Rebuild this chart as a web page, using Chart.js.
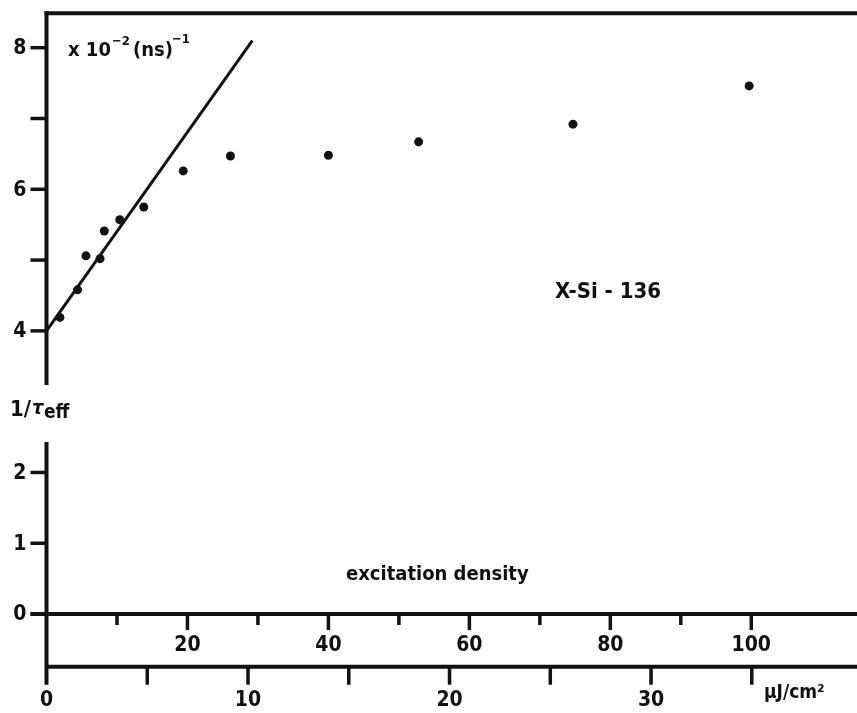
<!DOCTYPE html>
<html>
<head>
<meta charset="utf-8">
<title>Decay rate vs excitation density</title>
<script src="https://cdn.jsdelivr.net/npm/chart.js@4/dist/chart.umd.min.js"></script>
<style>
  body { margin: 0; background: #fff; }
  canvas { display: block; }
</style>
</head>
<body>
<canvas id="rateChart" width="857" height="713"></canvas>
<script>
// measured points: excitation density (upper scale units) and 1/tau_eff in 10^-2 ns^-1
const density = [1.9, 4.4, 5.6, 7.6, 8.2, 10.4, 13.8, 19.4, 26.1, 40.0, 52.8, 74.7, 99.7];
const rate = [4.19, 4.58, 5.06, 5.02, 5.41, 5.57, 5.75, 6.26, 6.47, 6.48, 6.67, 6.92, 7.46];

// straight line through the low-density points
const fitX = [0, 29.2];
const fitY = [4.0, 8.1];

// axis ticks
const yTicks = [8, 7, 6, 5, 4, 2, 1, 0];
const yLabels = ["8", "6", "4", "2", "1", "0"];
const upperMajor = [20, 40, 60, 80, 100];
const upperMinor = [10, 30, 50, 70, 90];
const lowerTicks = [5, 10, 15, 20, 25, 30, 35];
const lowerLabels = [0, 10, 20, 30];

const FONT = '"DejaVu Sans Condensed", "DejaVu Sans", sans-serif';
const INK = "#111";

function line(ctx, x1, y1, x2, y2, w) {
  ctx.lineWidth = w;
  ctx.beginPath();
  ctx.moveTo(x1, y1);
  ctx.lineTo(x2, y2);
  ctx.stroke();
}

// axes are drawn by hand: broken y axis plus two stacked x axes
const axesPlugin = {
  id: "axesPlugin",
  afterDraw(chart) {
    const ctx = chart.ctx;
    const { x, x2, y } = chart.scales;
    const area = chart.chartArea;
    const left = x.getPixelForValue(0);
    const y0 = y.getPixelForValue(0);
    ctx.save();
    ctx.strokeStyle = INK;
    ctx.fillStyle = INK;
    ctx.lineCap = "butt";

    // frame top and broken y axis
    line(ctx, left - 2, area.top, area.right, area.top, 4);
    line(ctx, left, area.top - 2, left, 385, 4);
    line(ctx, left, 442, left, area.bottom + 18, 4);

    yTicks.forEach((v) => {
      const py = y.getPixelForValue(v);
      line(ctx, left - 16, py, left, py, 3.5);
    });

    ctx.font = "bold 21px " + FONT;
    ctx.textAlign = "right";
    ctx.textBaseline = "middle";
    yLabels.forEach((t) => {
      ctx.fillText(t, left - 20, y.getPixelForValue(Number(t)) + 1);
    });

    // upper x axis sitting on y = 0
    line(ctx, left - 16, y0, area.right, y0, 4);
    upperMinor.forEach((v) => {
      const px = x.getPixelForValue(v);
      line(ctx, px, y0, px, y0 + 11, 3.5);
    });
    upperMajor.forEach((v) => {
      const px = x.getPixelForValue(v);
      line(ctx, px, y0, px, y0 + 16, 3.5);
    });
    ctx.textAlign = "center";
    upperMajor.forEach((v) => {
      ctx.fillText(String(v), x.getPixelForValue(v), y0 + 32);
    });

    // lower x axis in uJ/cm2
    const yb = area.bottom;
    line(ctx, left, yb, area.right, yb, 4);
    lowerTicks.forEach((v) => {
      const px = x2.getPixelForValue(v);
      line(ctx, px, yb, px, yb + 18, 3.5);
    });
    lowerLabels.forEach((v) => {
      ctx.fillText(String(v), x2.getPixelForValue(v), yb + 34);
    });

    // texts
    ctx.textAlign = "left";
    ctx.textBaseline = "alphabetic";
    ctx.font = "bold 20px " + FONT;
    ctx.fillText("x 10", 68, 56);
    ctx.font = "bold 13px " + FONT;
    ctx.fillText("\u22122", 112, 45);
    ctx.font = "bold 20px " + FONT;
    ctx.fillText("(ns)", 133, 56);
    ctx.font = "bold 13px " + FONT;
    ctx.fillText("\u22121", 172, 43);

    ctx.font = "bold 22px " + FONT;
    ctx.fillText("X-Si - 136", 555, 298);

    ctx.font = "bold 22px " + FONT;
    ctx.fillText("1/", 10, 416);
    ctx.font = "italic bold 20px " + FONT;
    ctx.fillText("\u03c4", 32, 414);
    ctx.font = "bold 19px " + FONT;
    ctx.fillText("eff", 44, 418);

    ctx.font = "bold 20px " + FONT;
    ctx.fillText("excitation density", 346, 580);

    ctx.font = "bold 19px " + FONT;
    ctx.fillText("\u03bcJ/cm\u00b2", 764, 698);
    ctx.restore();
  },
};

const points = density.map((d, i) => ({ x: d, y: rate[i] }));
const fitLine = fitX.map((d, i) => ({ x: d, y: fitY[i] }));

new Chart(document.getElementById("rateChart"), {
  type: "scatter",
  data: {
    datasets: [
      {
        label: "X-Si-136",
        data: points,
        backgroundColor: INK,
        borderWidth: 0,
        pointRadius: 4.5,
      },
      {
        type: "line",
        label: "fit",
        data: fitLine,
        borderColor: INK,
        borderWidth: 3,
        pointRadius: 0,
        fill: false,
      },
    ],
  },
  options: {
    responsive: false,
    animation: false,
    layout: {
      autoPadding: false,
      padding: { left: 46.5, top: 13.3, right: 0, bottom: 46.3 },
    },
    plugins: { legend: { display: false }, tooltip: { enabled: false } },
    scales: {
      x: { type: "linear", min: 0, max: 115, display: false },
      x2: { type: "linear", axis: "x", min: 0, max: 40.22, display: false },
      y: { type: "linear", min: -0.744, max: 8.486, display: false },
    },
  },
  plugins: [axesPlugin],
});
</script>
</body>
</html>
